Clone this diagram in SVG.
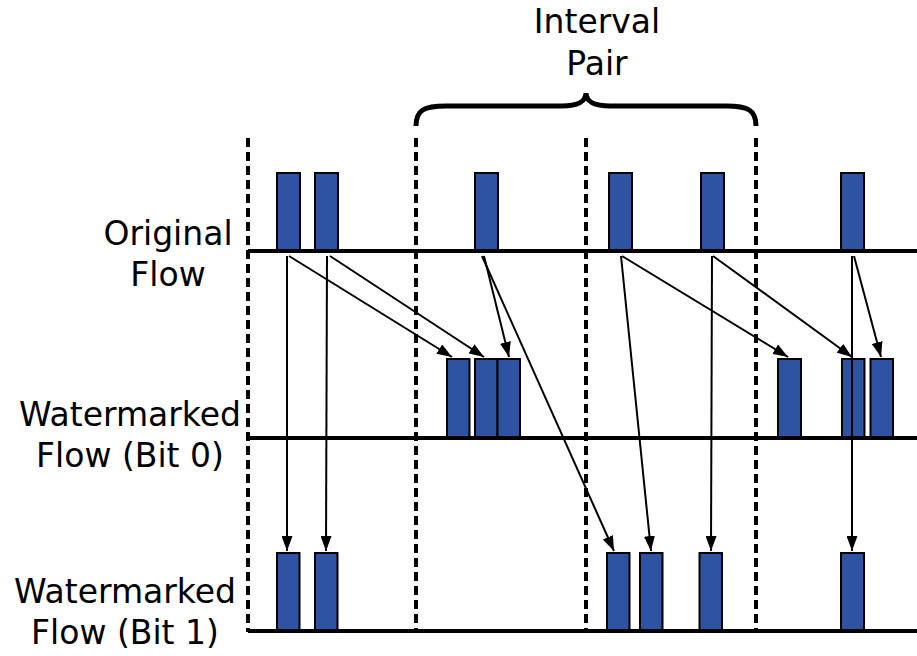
<svg xmlns="http://www.w3.org/2000/svg" width="917" height="656" viewBox="0 0 917 656">
  <style>
    .lbl { font-family: "DejaVu Sans", "Liberation Sans", sans-serif; font-size: 33px; fill: #000; text-anchor: middle; }
    .pkt { fill: #2f53a3; stroke: #000; stroke-width: 2; }
    .base { stroke: #000; stroke-width: 4; fill: none; }
    .div { stroke: #000; stroke-width: 4; stroke-dasharray: 9 5; fill: none; }
    .arr { stroke: #000; stroke-width: 2; fill: none; marker-end: url(#head); }
  </style>
  <defs>
    <marker id="head" markerUnits="userSpaceOnUse" markerWidth="15" markerHeight="11" refX="15" refY="5.5" orient="auto">
      <path d="M0,0 L15,5.5 L0,11 z" fill="#000"/>
    </marker>
  </defs>

  <rect width="917" height="656" fill="#fff"/>

  <!-- interval boundaries -->
  <g id="dividers">
    <line class="div" x1="248" y1="138" x2="248" y2="632"/>
    <line class="div" x1="416" y1="138" x2="416" y2="632"/>
    <line class="div" x1="586" y1="138" x2="586" y2="632"/>
    <line class="div" x1="756" y1="138" x2="756" y2="632"/>
  </g>

  <!-- brace and its label -->
  <g id="interval-pair">
    <path d="M416,126 C416,110 424,106 446,106 L562,106 C578,106 586,101 586,93 C586,101 594,106 610,106 L726,106 C748,106 756,110 756,126" fill="none" stroke="#000" stroke-width="5"/>
    <text class="lbl" x="597" y="33">Interval</text>
    <text class="lbl" x="597" y="75">Pair</text>
  </g>

  <!-- row labels -->
  <g id="label-original">
    <text class="lbl" x="168" y="245">Original</text>
    <text class="lbl" x="168" y="286">Flow</text>
  </g>
  <g id="label-bit0">
    <text class="lbl" x="130" y="426">Watermarked</text>
    <text class="lbl" x="130" y="467">Flow (Bit 0)</text>
  </g>
  <g id="label-bit1">
    <text class="lbl" x="125" y="603">Watermarked</text>
    <text class="lbl" x="125" y="644">Flow (Bit 1)</text>
  </g>

  <!-- original flow -->
  <g id="row-original">
    <rect class="pkt" x="277" y="173" width="23" height="78"/>
    <rect class="pkt" x="315" y="173" width="23" height="78"/>
    <rect class="pkt" x="475" y="173" width="23" height="78"/>
    <rect class="pkt" x="609" y="173" width="23" height="78"/>
    <rect class="pkt" x="701" y="173" width="23" height="78"/>
    <rect class="pkt" x="841" y="173" width="23" height="78"/>
    <line class="base" x1="248" y1="251" x2="917" y2="251"/>
  </g>

  <!-- watermarked flow, bit 0 -->
  <g id="row-bit0">
    <rect class="pkt" x="447" y="359" width="22.5" height="79"/>
    <rect class="pkt" x="475" y="359" width="22.5" height="79"/>
    <rect class="pkt" x="497.5" y="359" width="22.5" height="79"/>
    <rect class="pkt" x="778" y="359" width="23" height="79"/>
    <rect class="pkt" x="842" y="359" width="22.5" height="79"/>
    <rect class="pkt" x="870.5" y="359" width="22.5" height="79"/>
    <line class="base" x1="248" y1="438" x2="917" y2="438"/>
  </g>

  <!-- watermarked flow, bit 1 -->
  <g id="row-bit1">
    <rect class="pkt" x="277" y="553" width="22.5" height="78"/>
    <rect class="pkt" x="315" y="553" width="22.5" height="78"/>
    <rect class="pkt" x="607" y="553" width="22.5" height="78"/>
    <rect class="pkt" x="640" y="553" width="22.5" height="78"/>
    <rect class="pkt" x="699.5" y="553" width="22.5" height="78"/>
    <rect class="pkt" x="841" y="553" width="23" height="78"/>
    <line class="base" x1="248" y1="631" x2="917" y2="631"/>
  </g>

  <!-- packet mappings -->
  <g id="connectors">
    <line class="arr" x1="289" y1="256" x2="452" y2="357"/>
    <line class="arr" x1="330" y1="256" x2="484" y2="357"/>
    <line class="arr" x1="484" y1="256" x2="509" y2="357"/>
    <line class="arr" x1="622" y1="256" x2="788" y2="357"/>
    <line class="arr" x1="713" y1="256" x2="852" y2="357"/>
    <line class="arr" x1="854" y1="256" x2="881" y2="357"/>
    <line class="arr" x1="287" y1="256" x2="287" y2="551"/>
    <line class="arr" x1="327" y1="256" x2="326" y2="551"/>
    <line class="arr" x1="482" y1="256" x2="614" y2="551"/>
    <line class="arr" x1="621" y1="256" x2="651" y2="551"/>
    <line class="arr" x1="712" y1="256" x2="711" y2="551"/>
    <line class="arr" x1="852" y1="256" x2="852" y2="551"/>
  </g>
</svg>
